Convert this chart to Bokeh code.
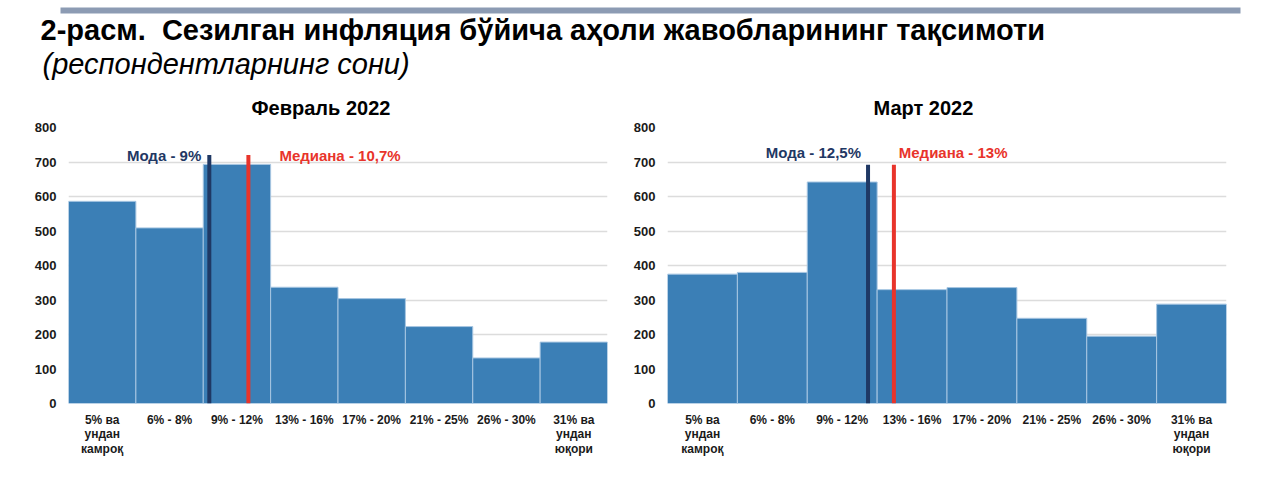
from bokeh.plotting import figure
from bokeh.layouts import column, row
from bokeh.models import ColumnDataSource, FixedTicker, Range1d, Title
from bokeh.core.properties import value
from bokeh.embed import file_html
from bokeh.resources import INLINE

# data
categories = ["5% ва\nундан\nкамроқ", "6% - 8%", "9% - 12%", "13% - 16%",
              "17% - 20%", "21% - 25%", "26% - 30%", "31% ва\nундан\nюқори"]
feb_counts = [586, 509, 693, 337, 304, 223, 132, 178]
mar_counts = [375, 380, 642, 330, 336, 247, 195, 288]

# mode / median marks, in category-axis units (bar i spans i-0.5 .. i+0.5)
feb_mode, feb_median, feb_line_top = 1.59, 2.17, 720
mar_mode, mar_median, mar_line_top = 2.37, 2.74, 692
feb_mode_text, feb_median_text = "Мода - 9%", "Медиана - 10,7%"
mar_mode_text, mar_median_text = "Мода - 12,5%", "Медиана - 13%"
y_ticks = list(range(0, 801, 100))

FONT = "Liberation Sans"
BAR = "#3B7FB6"
NAVY = "#1F3864"
RED = "#E8342B"
HEAD_H = 85


def panel(title, counts, mode, median, line_top, mode_text, median_text,
          mode_lab, median_lab, lab_y, width, left, right, top, title_off):
    h = 478 - 8 - HEAD_H
    p = figure(width=width, height=h, x_range=Range1d(-0.5, 7.5),
               y_range=Range1d(0, 800), toolbar_location=None,
               output_backend="svg", min_border_left=left,
               min_border_right=right, min_border_top=top,
               min_border_bottom=h - top - 277)
    p.title = Title(text=title, text_font=FONT, text_font_size="20px",
                    text_font_style="bold", align="left", offset=title_off,
                    standoff=17, text_color="#000000")
    src = ColumnDataSource(data=dict(
        left=[i - 0.5 for i in range(len(counts))],
        right=[i + 0.5 for i in range(len(counts))],
        top=counts))
    p.quad(left="left", right="right", bottom=0, top="top", source=src,
           fill_color=BAR, line_color="#A7C6E2", line_width=1)
    p.segment(x0=[mode], y0=[0], x1=[mode], y1=[line_top],
              line_color=NAVY, line_width=4)
    p.segment(x0=[median], y0=[0], x1=[median], y1=[line_top],
              line_color=RED, line_width=4)
    p.text(x=[mode_lab], y=[lab_y], text=[mode_text], text_font=value(FONT),
           text_font_size="15px", text_font_style="bold", text_color=NAVY,
           text_align="right", text_baseline="middle")
    p.text(x=[median_lab], y=[lab_y], text=[median_text], text_font=value(FONT),
           text_font_size="15px", text_font_style="bold", text_color=RED,
           text_align="left", text_baseline="middle")

    p.xaxis.ticker = FixedTicker(ticks=list(range(len(categories))))
    p.xaxis.major_label_overrides = {i: c for i, c in enumerate(categories)}
    p.yaxis.ticker = FixedTicker(ticks=y_ticks)
    for ax in (p.xaxis, p.yaxis):
        ax.axis_line_color = None
        ax.major_tick_line_color = None
        ax.minor_tick_line_color = None
        ax.major_tick_in = 0
        ax.major_tick_out = 0
        ax.minor_tick_in = 0
        ax.minor_tick_out = 0
        ax.major_label_text_font = FONT
        ax.major_label_text_font_style = "bold"
        ax.major_label_text_color = "#1A1A1A"
    p.xaxis.major_label_text_font_size = "12px"
    p.xaxis.major_label_text_line_height = 1.05
    p.yaxis.major_label_text_font_size = "13px"
    p.xaxis.major_label_standoff = 9
    p.yaxis.major_label_standoff = 12
    p.xgrid.visible = False
    p.ygrid.grid_line_color = "#DCDCDC"
    p.ygrid.grid_line_width = 1.5
    p.outline_line_color = None
    return p


feb = panel("Февраль 2022", feb_counts, feb_mode, feb_median, feb_line_top,
            feb_mode_text, feb_median_text, 1.47, 2.63, 719,
            620, 68, 13, 127 - HEAD_H, 183)
mar = panel("Март 2022", mar_counts, mar_mode, mar_median, mar_line_top,
            mar_mode_text, mar_median_text, 2.27, 2.81, 727,
            646, 47, 40, 126 - HEAD_H, 206)

# header strip: y runs downward in pixels
head = figure(width=1266, height=HEAD_H, x_range=Range1d(0, 1266),
              y_range=Range1d(HEAD_H, 0), toolbar_location=None,
              output_backend="svg", min_border=0,
              x_axis_location=None, y_axis_location=None)
head.xgrid.visible = False
head.ygrid.visible = False
head.outline_line_color = None
head.quad(left=[60], right=[1240], top=[7], bottom=[13],
          fill_color="#8C9BB3", line_color=None)
head.text(x=[40], y=[29],
          text=["2-расм.\u00a0 Сезилган инфляция бўйича аҳоли жавобларининг тақсимоти"],
          text_font=value(FONT), text_font_size="29px", text_font_style="bold",
          text_color="#000000", text_baseline="middle")
head.text(x=[42], y=[63], text=["(респондентларнинг сони)"],
          text_font=value(FONT), text_font_size="29px", text_font_style="italic",
          text_color="#000000", text_baseline="middle")

layout = column(head, row(feb, mar))
open("out.html", "w").write(file_html(layout, INLINE))
